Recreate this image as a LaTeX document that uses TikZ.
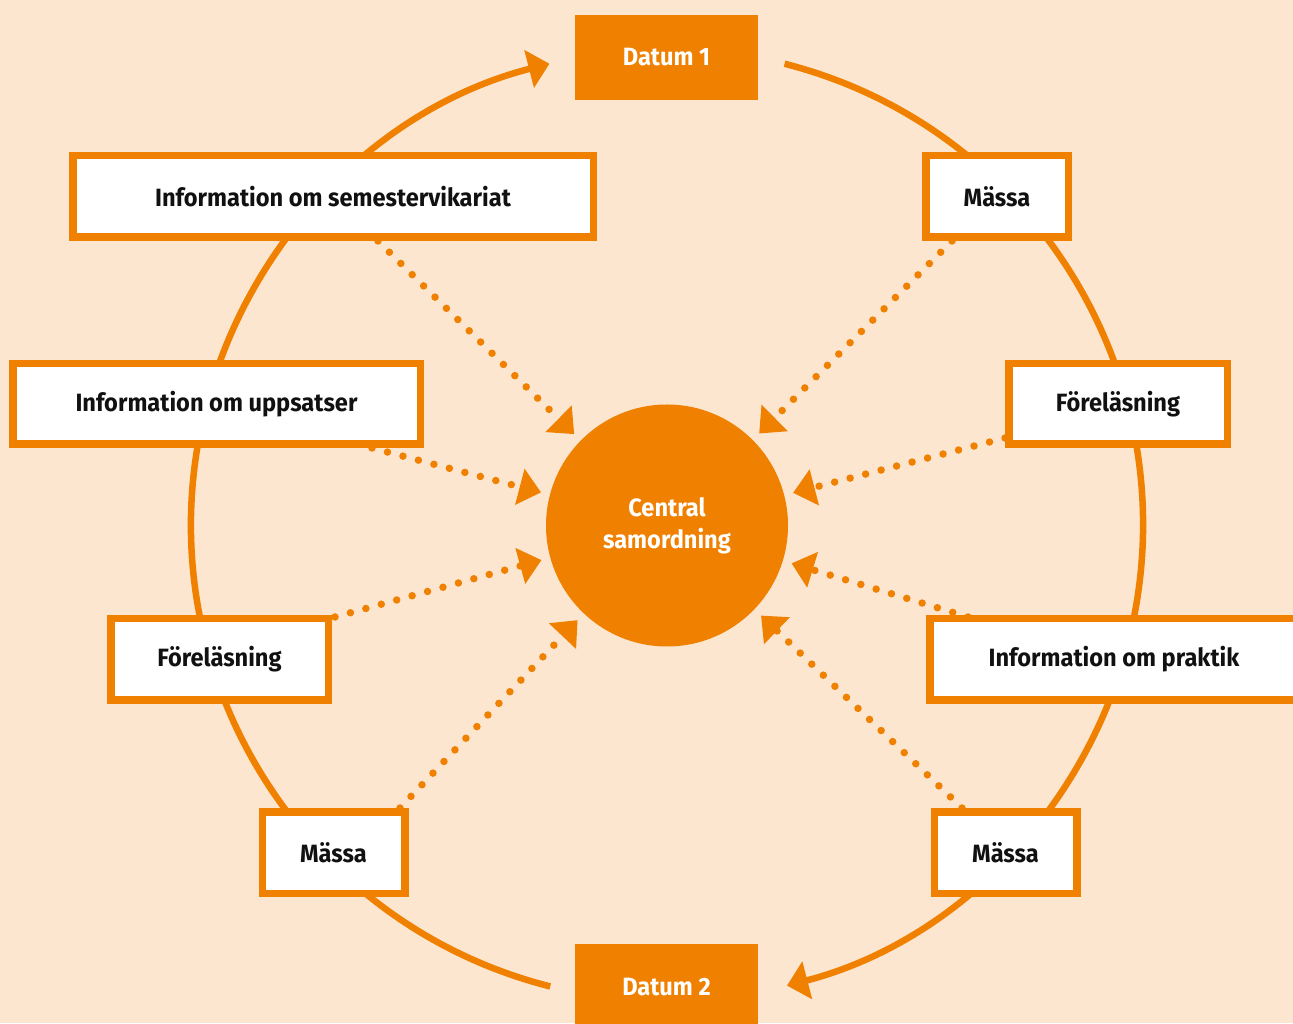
\documentclass[tikz,border=0pt]{standalone}
\usepackage{fontspec}
\setmainfont{Fira Sans}[FakeStretch=0.945]
\usetikzlibrary{arrows.meta}
\definecolor{bg}{RGB}{253,230,208}
\definecolor{org}{RGB}{240,128,0}
\definecolor{ink}{RGB}{17,17,17}
\newcommand\boxfont{\bfseries\fontsize{25}{32}\selectfont}
\begin{document}
\begin{tikzpicture}[x=1pt,y=1pt,
  box/.style={draw=org, line width=7.5pt, fill=white, inner sep=0pt, minimum height=81.5pt, font=\boxfont, text=ink},
  datebox/.style={fill=org, inner sep=0pt, minimum width=183pt, minimum height=85pt, font=\boxfont, text=white},
  ring/.style={draw=org, line width=6.5pt, -{Triangle[length=21pt,width=38pt]}},
  dotarrow/.style={draw=org, line width=7.5pt, line cap=round, dash pattern=on 0pt off 16pt, shorten >=9pt, -{Triangle[length=22pt,width=36pt]}}]
\useasboundingbox (0,0) rectangle (1293,1023);
\fill[bg] (0,0) rectangle (1293,1023);
% ring
\coordinate (rc) at (667,498);
\draw[ring] (rc) ++(255.8:476) arc[start angle=255.8, end angle=104.3, radius=476];
\draw[ring] (rc) ++(75.7:476) arc[start angle=75.7, end angle=-75.4, radius=476];
% centre
\node[circle, fill=org, minimum size=242pt, inner sep=0pt, text=white, font=\boxfont, align=center] (cc) at (667,497.5) {Central\\samordning};
% dotted arrow starts
\coordinate (a1) at (378,782);
\coordinate (a2) at (952,782);
\coordinate (a3) at (372,575);
\coordinate (a4) at (1005,585);
\coordinate (a5) at (335,406);
\coordinate (a6) at (968,406);
\coordinate (a7) at (400,215);
\coordinate (a8) at (962,215);
\foreach \s in {a1,a2,a3,a4,a5,a6,a7,a8} \draw[dotarrow] (\s) -- (cc);
% date boxes
\node[datebox] (d1) at (666.5,965.5) {Datum 1};
\node[datebox, minimum height=86pt] (d2) at (666.5,36) {Datum 2};
% boxes
\node[box, minimum width=520.5pt] (sem) at (333,826.5) {Information om semestervikariat};
\node[box, minimum width=142.5pt] (m1) at (997,826.5) {Mässa};
\node[box, minimum width=407.5pt, minimum height=80.5pt] (ups) at (216.5,619) {Information om uppsatser};
\node[box, minimum width=218.5pt, minimum height=80.5pt] (f1) at (1118,619) {Föreläsning};
\node[box, minimum width=217.5pt] (f2) at (219.5,363.5) {Föreläsning};
\node[box, minimum width=368.5pt] (prak) at (1114,363.5) {Information om praktik};
\node[box, minimum width=142.5pt] (m2) at (333.5,170) {Mässa};
\node[box, minimum width=142.5pt] (m3) at (1005.5,170) {Mässa};
\end{tikzpicture}
\end{document}
